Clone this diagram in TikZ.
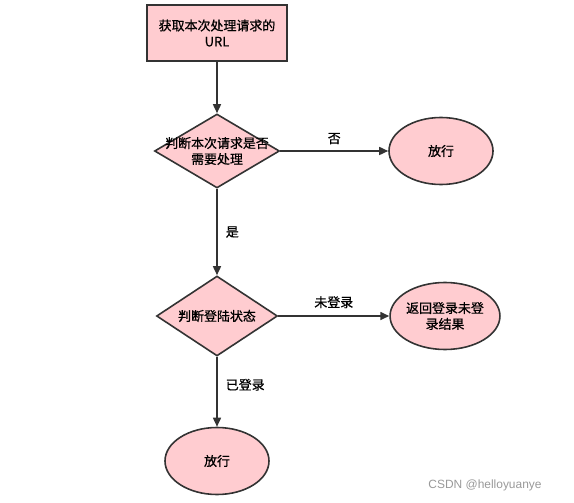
\documentclass[tikz,border=0pt]{standalone}
\usepackage{fontspec}
\setmainfont{Noto Sans CJK SC}[BoldFont=Noto Sans CJK SC,BoldFeatures={FakeBold=0.7}]
\usetikzlibrary{shapes.geometric,arrows.meta}
\definecolor{colorFill}{RGB}{255,204,208}
\definecolor{colorLine}{RGB}{51,51,51}
\colorlet{colorMark}{gray!80}
\tikzset{
   every path/.style={>={Triangle[length=9bp,width=8bp]}},
   stepbox/.style={rectangle,draw=colorLine,fill=colorFill,line width=1.6bp,minimum width=140bp,minimum height=56bp,inner sep=0pt,align=center},
   test/.style={diamond,draw=colorLine,fill=colorFill,line width=1.6bp,inner sep=0pt,label={[align=center]center:#1}},
   stop/.style={ellipse,draw=colorLine,fill=colorFill,line width=1.6bp,minimum width=104bp,minimum height=67bp,inner sep=0pt,align=center},
   flow/.style={->,color=colorLine,line width=1.6bp},
   lab/.style={text=black,inner sep=2bp},
}
\begin{document}
\begin{tikzpicture}[x=1bp,y=-1bp,font=\fontsize{13}{16}\selectfont\bfseries]
      \useasboundingbox (0,0) rectangle (574,503);
      \node[stepbox] (url) at (217,33) {获取本次处理请求的\\URL};
      \node[test={判断本次请求是否\\需要处理},minimum width=125bp,minimum height=74bp] (need) at (217,151) {};
      \node[stop] (pass1) at (441,151) {放行};
      \node[test={判断登陆状态},minimum width=121bp,minimum height=80bp] (login) at (217,316) {};
      \node[stop] (back) at (445,316) {返回登录未登\\录结果};
      \node[stop] (pass2) at (217,461) {放行};
      \draw[flow] (url)  --  (need);
      \draw[flow] (need) -- node[lab,above=4bp]{否} (pass1);
      \draw[flow] (need) -- node[lab,right=6bp]{是} (login);
      \draw[flow] (login) -- node[lab,above=5bp]{未登录} (back);
      \draw[flow] (login) -- node[lab,right=6bp,pos=0.4]{已登录} (pass2);
      \node[text=colorMark,font=\fontsize{12}{14}\selectfont\fontspec{Liberation Sans}] (mark) at (485,485) {CSDN @helloyuanye};
    \end{tikzpicture}
\end{document}
